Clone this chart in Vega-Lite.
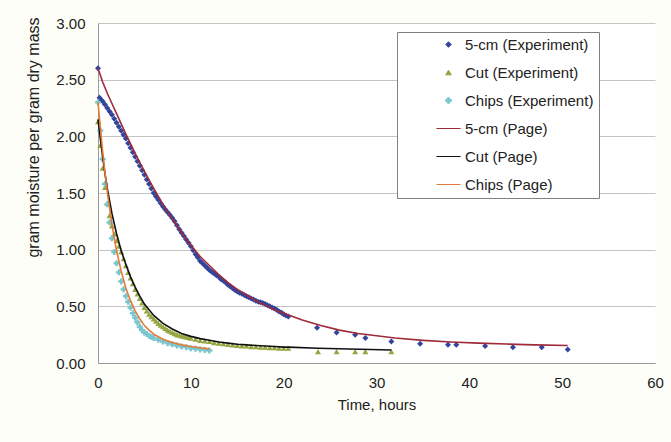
{
  "$schema": "https://vega.github.io/schema/vega-lite/v6.json",
  "width": 557,
  "height": 340,
  "autosize": {"type": "none"},
  "padding": {"left": 98, "top": 23, "right": 16, "bottom": 79},
  "background": "#FEFEF8",
  "config": {
    "view": {"stroke": null, "fill": "white"},
    "font": "Liberation Sans",
    "axis": {"labelFont": "Liberation Sans", "titleFont": "Liberation Sans", "labelFontSize": 15, "titleFontSize": 15, "titleFontWeight": "normal", "labelColor": "#222222", "titleColor": "#222222", "domainColor": "#9a9a9a", "gridColor": "#c4c4c4", "ticks": false}
  },
  "datasets": {
    "exp": [
      {"series": "5-cm (Experiment)", "hours": 0, "moisture": 2.60},
      {"series": "5-cm (Experiment)", "hours": 0.17, "moisture": 2.34},
      {"series": "5-cm (Experiment)", "hours": 0.33, "moisture": 2.32},
      {"series": "5-cm (Experiment)", "hours": 0.5, "moisture": 2.31},
      {"series": "5-cm (Experiment)", "hours": 0.75, "moisture": 2.28},
      {"series": "5-cm (Experiment)", "hours": 1.0, "moisture": 2.25},
      {"series": "5-cm (Experiment)", "hours": 1.25, "moisture": 2.22},
      {"series": "5-cm (Experiment)", "hours": 1.5, "moisture": 2.19},
      {"series": "5-cm (Experiment)", "hours": 1.75, "moisture": 2.155},
      {"series": "5-cm (Experiment)", "hours": 2.0, "moisture": 2.12},
      {"series": "5-cm (Experiment)", "hours": 2.25, "moisture": 2.085},
      {"series": "5-cm (Experiment)", "hours": 2.5, "moisture": 2.05},
      {"series": "5-cm (Experiment)", "hours": 2.75, "moisture": 2.015},
      {"series": "5-cm (Experiment)", "hours": 3.0, "moisture": 1.98},
      {"series": "5-cm (Experiment)", "hours": 3.25, "moisture": 1.94},
      {"series": "5-cm (Experiment)", "hours": 3.5, "moisture": 1.90},
      {"series": "5-cm (Experiment)", "hours": 3.75, "moisture": 1.86},
      {"series": "5-cm (Experiment)", "hours": 4.0, "moisture": 1.82},
      {"series": "5-cm (Experiment)", "hours": 4.25, "moisture": 1.78},
      {"series": "5-cm (Experiment)", "hours": 4.5, "moisture": 1.74},
      {"series": "5-cm (Experiment)", "hours": 4.75, "moisture": 1.70},
      {"series": "5-cm (Experiment)", "hours": 5.0, "moisture": 1.66},
      {"series": "5-cm (Experiment)", "hours": 5.25, "moisture": 1.62},
      {"series": "5-cm (Experiment)", "hours": 5.5, "moisture": 1.58},
      {"series": "5-cm (Experiment)", "hours": 5.75, "moisture": 1.54},
      {"series": "5-cm (Experiment)", "hours": 6.0, "moisture": 1.50},
      {"series": "5-cm (Experiment)", "hours": 6.25, "moisture": 1.47},
      {"series": "5-cm (Experiment)", "hours": 6.5, "moisture": 1.44},
      {"series": "5-cm (Experiment)", "hours": 6.75, "moisture": 1.41},
      {"series": "5-cm (Experiment)", "hours": 7.0, "moisture": 1.38},
      {"series": "5-cm (Experiment)", "hours": 7.25, "moisture": 1.355},
      {"series": "5-cm (Experiment)", "hours": 7.5, "moisture": 1.33},
      {"series": "5-cm (Experiment)", "hours": 7.75, "moisture": 1.305},
      {"series": "5-cm (Experiment)", "hours": 8.0, "moisture": 1.28},
      {"series": "5-cm (Experiment)", "hours": 8.25, "moisture": 1.25},
      {"series": "5-cm (Experiment)", "hours": 8.5, "moisture": 1.215},
      {"series": "5-cm (Experiment)", "hours": 8.75, "moisture": 1.18},
      {"series": "5-cm (Experiment)", "hours": 9.0, "moisture": 1.15},
      {"series": "5-cm (Experiment)", "hours": 9.25, "moisture": 1.12},
      {"series": "5-cm (Experiment)", "hours": 9.5, "moisture": 1.09},
      {"series": "5-cm (Experiment)", "hours": 9.75, "moisture": 1.06},
      {"series": "5-cm (Experiment)", "hours": 10.0, "moisture": 1.03},
      {"series": "5-cm (Experiment)", "hours": 10.25, "moisture": 0.995},
      {"series": "5-cm (Experiment)", "hours": 10.5, "moisture": 0.96},
      {"series": "5-cm (Experiment)", "hours": 10.75, "moisture": 0.93},
      {"series": "5-cm (Experiment)", "hours": 11.0, "moisture": 0.90},
      {"series": "5-cm (Experiment)", "hours": 11.25, "moisture": 0.88},
      {"series": "5-cm (Experiment)", "hours": 11.5, "moisture": 0.86},
      {"series": "5-cm (Experiment)", "hours": 11.75, "moisture": 0.84},
      {"series": "5-cm (Experiment)", "hours": 12.0, "moisture": 0.82},
      {"series": "5-cm (Experiment)", "hours": 12.25, "moisture": 0.805},
      {"series": "5-cm (Experiment)", "hours": 12.5, "moisture": 0.79},
      {"series": "5-cm (Experiment)", "hours": 12.75, "moisture": 0.775},
      {"series": "5-cm (Experiment)", "hours": 13.0, "moisture": 0.76},
      {"series": "5-cm (Experiment)", "hours": 13.25, "moisture": 0.74},
      {"series": "5-cm (Experiment)", "hours": 13.5, "moisture": 0.725},
      {"series": "5-cm (Experiment)", "hours": 13.75, "moisture": 0.71},
      {"series": "5-cm (Experiment)", "hours": 14.0, "moisture": 0.69},
      {"series": "5-cm (Experiment)", "hours": 14.25, "moisture": 0.675},
      {"series": "5-cm (Experiment)", "hours": 14.5, "moisture": 0.66},
      {"series": "5-cm (Experiment)", "hours": 14.75, "moisture": 0.645},
      {"series": "5-cm (Experiment)", "hours": 15.0, "moisture": 0.63},
      {"series": "5-cm (Experiment)", "hours": 15.25, "moisture": 0.62},
      {"series": "5-cm (Experiment)", "hours": 15.5, "moisture": 0.61},
      {"series": "5-cm (Experiment)", "hours": 15.75, "moisture": 0.60},
      {"series": "5-cm (Experiment)", "hours": 16.0, "moisture": 0.59},
      {"series": "5-cm (Experiment)", "hours": 16.25, "moisture": 0.58},
      {"series": "5-cm (Experiment)", "hours": 16.5, "moisture": 0.57},
      {"series": "5-cm (Experiment)", "hours": 16.75, "moisture": 0.56},
      {"series": "5-cm (Experiment)", "hours": 17.0, "moisture": 0.55},
      {"series": "5-cm (Experiment)", "hours": 17.25, "moisture": 0.54},
      {"series": "5-cm (Experiment)", "hours": 17.5, "moisture": 0.535},
      {"series": "5-cm (Experiment)", "hours": 17.75, "moisture": 0.53},
      {"series": "5-cm (Experiment)", "hours": 18.0, "moisture": 0.52},
      {"series": "5-cm (Experiment)", "hours": 18.25, "moisture": 0.51},
      {"series": "5-cm (Experiment)", "hours": 18.5, "moisture": 0.50},
      {"series": "5-cm (Experiment)", "hours": 18.75, "moisture": 0.49},
      {"series": "5-cm (Experiment)", "hours": 19.0, "moisture": 0.48},
      {"series": "5-cm (Experiment)", "hours": 19.25, "moisture": 0.47},
      {"series": "5-cm (Experiment)", "hours": 19.5, "moisture": 0.455},
      {"series": "5-cm (Experiment)", "hours": 19.75, "moisture": 0.445},
      {"series": "5-cm (Experiment)", "hours": 20.0, "moisture": 0.43},
      {"series": "5-cm (Experiment)", "hours": 20.25, "moisture": 0.42},
      {"series": "5-cm (Experiment)", "hours": 20.5, "moisture": 0.41},
      {"series": "5-cm (Experiment)", "hours": 23.6, "moisture": 0.31},
      {"series": "5-cm (Experiment)", "hours": 25.7, "moisture": 0.27},
      {"series": "5-cm (Experiment)", "hours": 27.7, "moisture": 0.25},
      {"series": "5-cm (Experiment)", "hours": 28.8, "moisture": 0.22},
      {"series": "5-cm (Experiment)", "hours": 31.6, "moisture": 0.19},
      {"series": "5-cm (Experiment)", "hours": 34.7, "moisture": 0.17},
      {"series": "5-cm (Experiment)", "hours": 37.7, "moisture": 0.16},
      {"series": "5-cm (Experiment)", "hours": 38.6, "moisture": 0.16},
      {"series": "5-cm (Experiment)", "hours": 41.7, "moisture": 0.15},
      {"series": "5-cm (Experiment)", "hours": 44.7, "moisture": 0.14},
      {"series": "5-cm (Experiment)", "hours": 47.8, "moisture": 0.14},
      {"series": "5-cm (Experiment)", "hours": 50.6, "moisture": 0.12},
      {"series": "Cut (Experiment)", "hours": 0, "moisture": 2.13},
      {"series": "Cut (Experiment)", "hours": 0.25, "moisture": 1.92},
      {"series": "Cut (Experiment)", "hours": 0.5, "moisture": 1.72},
      {"series": "Cut (Experiment)", "hours": 0.75, "moisture": 1.55},
      {"series": "Cut (Experiment)", "hours": 1.0, "moisture": 1.41},
      {"series": "Cut (Experiment)", "hours": 1.25, "moisture": 1.30},
      {"series": "Cut (Experiment)", "hours": 1.5, "moisture": 1.21},
      {"series": "Cut (Experiment)", "hours": 1.75, "moisture": 1.14},
      {"series": "Cut (Experiment)", "hours": 2.0, "moisture": 1.08},
      {"series": "Cut (Experiment)", "hours": 2.25, "moisture": 1.03},
      {"series": "Cut (Experiment)", "hours": 2.5, "moisture": 0.98},
      {"series": "Cut (Experiment)", "hours": 2.75, "moisture": 0.92},
      {"series": "Cut (Experiment)", "hours": 3.0, "moisture": 0.86},
      {"series": "Cut (Experiment)", "hours": 3.25, "moisture": 0.80},
      {"series": "Cut (Experiment)", "hours": 3.5, "moisture": 0.75},
      {"series": "Cut (Experiment)", "hours": 3.75, "moisture": 0.70},
      {"series": "Cut (Experiment)", "hours": 4.0, "moisture": 0.65},
      {"series": "Cut (Experiment)", "hours": 4.25, "moisture": 0.61},
      {"series": "Cut (Experiment)", "hours": 4.5, "moisture": 0.57},
      {"series": "Cut (Experiment)", "hours": 4.75, "moisture": 0.53},
      {"series": "Cut (Experiment)", "hours": 5.0, "moisture": 0.49},
      {"series": "Cut (Experiment)", "hours": 5.25, "moisture": 0.46},
      {"series": "Cut (Experiment)", "hours": 5.5, "moisture": 0.43},
      {"series": "Cut (Experiment)", "hours": 5.75, "moisture": 0.41},
      {"series": "Cut (Experiment)", "hours": 6.0, "moisture": 0.39},
      {"series": "Cut (Experiment)", "hours": 6.25, "moisture": 0.37},
      {"series": "Cut (Experiment)", "hours": 6.5, "moisture": 0.35},
      {"series": "Cut (Experiment)", "hours": 6.75, "moisture": 0.335},
      {"series": "Cut (Experiment)", "hours": 7.0, "moisture": 0.32},
      {"series": "Cut (Experiment)", "hours": 7.25, "moisture": 0.305},
      {"series": "Cut (Experiment)", "hours": 7.5, "moisture": 0.29},
      {"series": "Cut (Experiment)", "hours": 7.75, "moisture": 0.28},
      {"series": "Cut (Experiment)", "hours": 8.0, "moisture": 0.27},
      {"series": "Cut (Experiment)", "hours": 8.25, "moisture": 0.26},
      {"series": "Cut (Experiment)", "hours": 8.5, "moisture": 0.25},
      {"series": "Cut (Experiment)", "hours": 8.75, "moisture": 0.245},
      {"series": "Cut (Experiment)", "hours": 9.0, "moisture": 0.24},
      {"series": "Cut (Experiment)", "hours": 9.25, "moisture": 0.235},
      {"series": "Cut (Experiment)", "hours": 9.5, "moisture": 0.23},
      {"series": "Cut (Experiment)", "hours": 9.75, "moisture": 0.225},
      {"series": "Cut (Experiment)", "hours": 10.0, "moisture": 0.22},
      {"series": "Cut (Experiment)", "hours": 10.5, "moisture": 0.21},
      {"series": "Cut (Experiment)", "hours": 11.0, "moisture": 0.20},
      {"series": "Cut (Experiment)", "hours": 11.5, "moisture": 0.195},
      {"series": "Cut (Experiment)", "hours": 12.0, "moisture": 0.19},
      {"series": "Cut (Experiment)", "hours": 12.5, "moisture": 0.18},
      {"series": "Cut (Experiment)", "hours": 13.0, "moisture": 0.175},
      {"series": "Cut (Experiment)", "hours": 13.5, "moisture": 0.17},
      {"series": "Cut (Experiment)", "hours": 14.0, "moisture": 0.165},
      {"series": "Cut (Experiment)", "hours": 14.5, "moisture": 0.16},
      {"series": "Cut (Experiment)", "hours": 15.0, "moisture": 0.155},
      {"series": "Cut (Experiment)", "hours": 15.5, "moisture": 0.15},
      {"series": "Cut (Experiment)", "hours": 16.0, "moisture": 0.15},
      {"series": "Cut (Experiment)", "hours": 16.5, "moisture": 0.145},
      {"series": "Cut (Experiment)", "hours": 17.0, "moisture": 0.145},
      {"series": "Cut (Experiment)", "hours": 17.5, "moisture": 0.14},
      {"series": "Cut (Experiment)", "hours": 18.0, "moisture": 0.14},
      {"series": "Cut (Experiment)", "hours": 18.5, "moisture": 0.135},
      {"series": "Cut (Experiment)", "hours": 19.0, "moisture": 0.135},
      {"series": "Cut (Experiment)", "hours": 19.5, "moisture": 0.13},
      {"series": "Cut (Experiment)", "hours": 20.0, "moisture": 0.13},
      {"series": "Cut (Experiment)", "hours": 20.5, "moisture": 0.13},
      {"series": "Cut (Experiment)", "hours": 23.7, "moisture": 0.10},
      {"series": "Cut (Experiment)", "hours": 25.7, "moisture": 0.10},
      {"series": "Cut (Experiment)", "hours": 27.7, "moisture": 0.10},
      {"series": "Cut (Experiment)", "hours": 28.8, "moisture": 0.10},
      {"series": "Cut (Experiment)", "hours": 31.6, "moisture": 0.10},
      {"series": "Chips (Experiment)", "hours": 0, "moisture": 2.30},
      {"series": "Chips (Experiment)", "hours": 0.25, "moisture": 2.05},
      {"series": "Chips (Experiment)", "hours": 0.5, "moisture": 1.80},
      {"series": "Chips (Experiment)", "hours": 0.75, "moisture": 1.58},
      {"series": "Chips (Experiment)", "hours": 1.0, "moisture": 1.40},
      {"series": "Chips (Experiment)", "hours": 1.25, "moisture": 1.24},
      {"series": "Chips (Experiment)", "hours": 1.5, "moisture": 1.10},
      {"series": "Chips (Experiment)", "hours": 1.75, "moisture": 0.98},
      {"series": "Chips (Experiment)", "hours": 2.0, "moisture": 0.88},
      {"series": "Chips (Experiment)", "hours": 2.25, "moisture": 0.80},
      {"series": "Chips (Experiment)", "hours": 2.5, "moisture": 0.72},
      {"series": "Chips (Experiment)", "hours": 2.75, "moisture": 0.65},
      {"series": "Chips (Experiment)", "hours": 3.0, "moisture": 0.59},
      {"series": "Chips (Experiment)", "hours": 3.25, "moisture": 0.54},
      {"series": "Chips (Experiment)", "hours": 3.5, "moisture": 0.49},
      {"series": "Chips (Experiment)", "hours": 3.75, "moisture": 0.44},
      {"series": "Chips (Experiment)", "hours": 4.0, "moisture": 0.40},
      {"series": "Chips (Experiment)", "hours": 4.25, "moisture": 0.36},
      {"series": "Chips (Experiment)", "hours": 4.5, "moisture": 0.32},
      {"series": "Chips (Experiment)", "hours": 4.75, "moisture": 0.29},
      {"series": "Chips (Experiment)", "hours": 5.0, "moisture": 0.27},
      {"series": "Chips (Experiment)", "hours": 5.25, "moisture": 0.255},
      {"series": "Chips (Experiment)", "hours": 5.5, "moisture": 0.24},
      {"series": "Chips (Experiment)", "hours": 5.75, "moisture": 0.23},
      {"series": "Chips (Experiment)", "hours": 6.0, "moisture": 0.22},
      {"series": "Chips (Experiment)", "hours": 6.5, "moisture": 0.205},
      {"series": "Chips (Experiment)", "hours": 7.0, "moisture": 0.19},
      {"series": "Chips (Experiment)", "hours": 7.5, "moisture": 0.175},
      {"series": "Chips (Experiment)", "hours": 8.0, "moisture": 0.165},
      {"series": "Chips (Experiment)", "hours": 8.5, "moisture": 0.155},
      {"series": "Chips (Experiment)", "hours": 9.0, "moisture": 0.145},
      {"series": "Chips (Experiment)", "hours": 9.5, "moisture": 0.14},
      {"series": "Chips (Experiment)", "hours": 10.0, "moisture": 0.13},
      {"series": "Chips (Experiment)", "hours": 10.5, "moisture": 0.125},
      {"series": "Chips (Experiment)", "hours": 11.0, "moisture": 0.12},
      {"series": "Chips (Experiment)", "hours": 11.5, "moisture": 0.115},
      {"series": "Chips (Experiment)", "hours": 12.0, "moisture": 0.11}
    ],
    "page": [
      {"series": "5-cm (Page)", "hours": 0, "moisture": 2.60},
      {"series": "5-cm (Page)", "hours": 0.5, "moisture": 2.48},
      {"series": "5-cm (Page)", "hours": 1, "moisture": 2.38},
      {"series": "5-cm (Page)", "hours": 1.5, "moisture": 2.29},
      {"series": "5-cm (Page)", "hours": 2, "moisture": 2.20},
      {"series": "5-cm (Page)", "hours": 3, "moisture": 2.02},
      {"series": "5-cm (Page)", "hours": 4, "moisture": 1.85},
      {"series": "5-cm (Page)", "hours": 5, "moisture": 1.69},
      {"series": "5-cm (Page)", "hours": 6, "moisture": 1.54},
      {"series": "5-cm (Page)", "hours": 7, "moisture": 1.40},
      {"series": "5-cm (Page)", "hours": 8, "moisture": 1.27},
      {"series": "5-cm (Page)", "hours": 9, "moisture": 1.15},
      {"series": "5-cm (Page)", "hours": 10, "moisture": 1.04},
      {"series": "5-cm (Page)", "hours": 11, "moisture": 0.94},
      {"series": "5-cm (Page)", "hours": 12, "moisture": 0.86},
      {"series": "5-cm (Page)", "hours": 13, "moisture": 0.78},
      {"series": "5-cm (Page)", "hours": 14, "moisture": 0.71},
      {"series": "5-cm (Page)", "hours": 15, "moisture": 0.65},
      {"series": "5-cm (Page)", "hours": 16, "moisture": 0.60},
      {"series": "5-cm (Page)", "hours": 17, "moisture": 0.55},
      {"series": "5-cm (Page)", "hours": 18, "moisture": 0.51},
      {"series": "5-cm (Page)", "hours": 19, "moisture": 0.47},
      {"series": "5-cm (Page)", "hours": 20, "moisture": 0.44},
      {"series": "5-cm (Page)", "hours": 22, "moisture": 0.38},
      {"series": "5-cm (Page)", "hours": 24, "moisture": 0.33},
      {"series": "5-cm (Page)", "hours": 26, "moisture": 0.29},
      {"series": "5-cm (Page)", "hours": 28, "moisture": 0.26},
      {"series": "5-cm (Page)", "hours": 30, "moisture": 0.24},
      {"series": "5-cm (Page)", "hours": 32, "moisture": 0.22},
      {"series": "5-cm (Page)", "hours": 35, "moisture": 0.20},
      {"series": "5-cm (Page)", "hours": 38, "moisture": 0.185},
      {"series": "5-cm (Page)", "hours": 41, "moisture": 0.175},
      {"series": "5-cm (Page)", "hours": 44, "moisture": 0.167},
      {"series": "5-cm (Page)", "hours": 47, "moisture": 0.16},
      {"series": "5-cm (Page)", "hours": 50.6, "moisture": 0.155},
      {"series": "Cut (Page)", "hours": 0, "moisture": 2.15},
      {"series": "Cut (Page)", "hours": 0.25, "moisture": 1.98},
      {"series": "Cut (Page)", "hours": 0.5, "moisture": 1.82},
      {"series": "Cut (Page)", "hours": 0.75, "moisture": 1.67},
      {"series": "Cut (Page)", "hours": 1, "moisture": 1.54},
      {"series": "Cut (Page)", "hours": 1.5, "moisture": 1.32},
      {"series": "Cut (Page)", "hours": 2, "moisture": 1.14},
      {"series": "Cut (Page)", "hours": 2.5, "moisture": 0.99},
      {"series": "Cut (Page)", "hours": 3, "moisture": 0.87},
      {"series": "Cut (Page)", "hours": 3.5, "moisture": 0.76},
      {"series": "Cut (Page)", "hours": 4, "moisture": 0.67},
      {"series": "Cut (Page)", "hours": 4.5, "moisture": 0.59},
      {"series": "Cut (Page)", "hours": 5, "moisture": 0.52},
      {"series": "Cut (Page)", "hours": 5.5, "moisture": 0.47},
      {"series": "Cut (Page)", "hours": 6, "moisture": 0.42},
      {"series": "Cut (Page)", "hours": 7, "moisture": 0.35},
      {"series": "Cut (Page)", "hours": 8, "moisture": 0.30},
      {"series": "Cut (Page)", "hours": 9, "moisture": 0.26},
      {"series": "Cut (Page)", "hours": 10, "moisture": 0.235},
      {"series": "Cut (Page)", "hours": 11, "moisture": 0.215},
      {"series": "Cut (Page)", "hours": 12, "moisture": 0.20},
      {"series": "Cut (Page)", "hours": 13, "moisture": 0.185},
      {"series": "Cut (Page)", "hours": 14, "moisture": 0.175},
      {"series": "Cut (Page)", "hours": 15, "moisture": 0.165},
      {"series": "Cut (Page)", "hours": 16, "moisture": 0.16},
      {"series": "Cut (Page)", "hours": 17, "moisture": 0.155},
      {"series": "Cut (Page)", "hours": 18, "moisture": 0.15},
      {"series": "Cut (Page)", "hours": 19, "moisture": 0.145},
      {"series": "Cut (Page)", "hours": 20, "moisture": 0.14},
      {"series": "Cut (Page)", "hours": 20.5, "moisture": 0.14},
      {"series": "Cut (Page)", "hours": 23.7, "moisture": 0.13},
      {"series": "Cut (Page)", "hours": 31.6, "moisture": 0.115},
      {"series": "Chips (Page)", "hours": 0, "moisture": 2.30},
      {"series": "Chips (Page)", "hours": 0.25, "moisture": 2.08},
      {"series": "Chips (Page)", "hours": 0.5, "moisture": 1.87},
      {"series": "Chips (Page)", "hours": 0.75, "moisture": 1.68},
      {"series": "Chips (Page)", "hours": 1, "moisture": 1.51},
      {"series": "Chips (Page)", "hours": 1.5, "moisture": 1.22},
      {"series": "Chips (Page)", "hours": 2, "moisture": 0.99},
      {"series": "Chips (Page)", "hours": 2.5, "moisture": 0.81},
      {"series": "Chips (Page)", "hours": 3, "moisture": 0.66},
      {"series": "Chips (Page)", "hours": 3.5, "moisture": 0.55},
      {"series": "Chips (Page)", "hours": 4, "moisture": 0.46},
      {"series": "Chips (Page)", "hours": 4.5, "moisture": 0.39},
      {"series": "Chips (Page)", "hours": 5, "moisture": 0.33},
      {"series": "Chips (Page)", "hours": 5.5, "moisture": 0.29},
      {"series": "Chips (Page)", "hours": 6, "moisture": 0.255},
      {"series": "Chips (Page)", "hours": 7, "moisture": 0.21},
      {"series": "Chips (Page)", "hours": 8, "moisture": 0.18},
      {"series": "Chips (Page)", "hours": 9, "moisture": 0.16},
      {"series": "Chips (Page)", "hours": 10, "moisture": 0.145},
      {"series": "Chips (Page)", "hours": 11, "moisture": 0.135},
      {"series": "Chips (Page)", "hours": 12, "moisture": 0.125}
    ]
  },
  "layer": [
    {
      "data": {"name": "exp"},
      "mark": {"type": "point", "filled": true, "size": 36, "opacity": 1},
      "encoding": {
        "x": {"field": "hours", "type": "quantitative", "scale": {"domain": [0, 60], "nice": false},
          "axis": {"values": [0, 10, 20, 30, 40, 50, 60], "grid": false, "labelPadding": 12, "title": "Time, hours", "titlePadding": 7, "labelFlush": false}},
        "y": {"field": "moisture", "type": "quantitative", "scale": {"domain": [0, 3], "nice": false},
          "axis": {"values": [0, 0.5, 1, 1.5, 2, 2.5, 3], "format": ".2f", "grid": true, "labelPadding": 13, "title": "gram moisture per gram dry mass", "titleFontSize": 16, "titleX": -65, "titleY": 114, "titleAngle": -90, "titleAlign": "center", "titleBaseline": "middle"}},
        "color": {"field": "series", "type": "nominal",
          "scale": {"domain": ["5-cm (Experiment)", "Cut (Experiment)", "Chips (Experiment)", "5-cm (Page)", "Cut (Page)", "Chips (Page)"],
                    "range": ["#34449A", "#94A640", "#78C6CF", "#9E2A3A", "#111111", "#E37B35"]},
          "legend": {"orient": "none", "legendX": 299, "legendY": 9, "title": null, "fillColor": "white", "strokeColor": "#808080", "padding": 5, "symbolOffset": 39, "symbolSize": 30, "labelOffset": 9, "rowPadding": 12, "labelFontSize": 15, "labelFont": "Liberation Sans", "labelColor": "#222222", "labelLimit": 400, "symbolStrokeWidth": 1,
            "encode": {"symbols": {"update": {"stroke": {"scale": "color", "field": "value"}, "strokeWidth": {"value": 2}}}}}},
        "shape": {"field": "series", "type": "nominal",
          "scale": {"domain": ["5-cm (Experiment)", "Cut (Experiment)", "Chips (Experiment)", "5-cm (Page)", "Cut (Page)", "Chips (Page)"],
                    "range": ["diamond", "triangle-up", "cross", "M-4.4,0H4.4", "M-4.4,0H4.4", "M-4.4,0H4.4"]},
          "legend": {"orient": "none", "legendX": 299, "legendY": 9, "title": null, "fillColor": "white", "strokeColor": "#808080", "padding": 5, "symbolOffset": 39, "symbolSize": 30, "labelOffset": 9, "rowPadding": 12, "labelFontSize": 15, "labelFont": "Liberation Sans", "labelColor": "#222222", "labelLimit": 400, "symbolStrokeWidth": 1,
            "encode": {"symbols": {"update": {"stroke": {"scale": "color", "field": "value"}, "strokeWidth": {"value": 2}}}}}}
      }
    },
    {
      "data": {"name": "page"},
      "mark": {"type": "line", "strokeWidth": 1.6},
      "encoding": {
        "x": {"field": "hours", "type": "quantitative"},
        "y": {"field": "moisture", "type": "quantitative"},
        "color": {"field": "series", "type": "nominal", "legend": null},
        "order": {"field": "hours", "type": "quantitative"}
      }
    }
  ]
}
